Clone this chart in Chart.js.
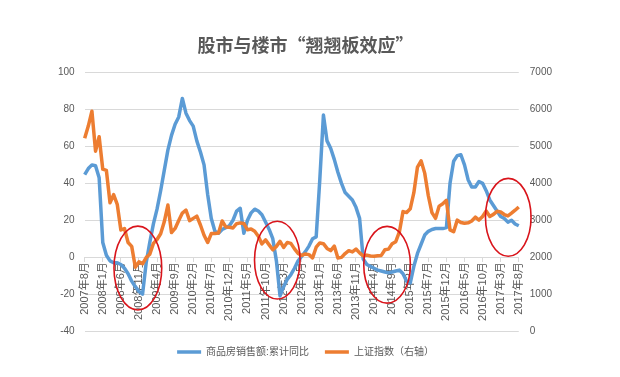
<!DOCTYPE html>
<html>
<head>
<meta charset="utf-8">
<script src="https://cdn.jsdelivr.net/npm/chart.js@4/dist/chart.umd.min.js"></script>
<style>
  html, body { margin:0; padding:0; background:#fff; }
  #wrap { width:620px; height:377px; }
</style>
</head>
<body>
<div id="wrap"><canvas id="seesawChart" width="620" height="377"></canvas></div>
<script>
/* ── Categories: one per month, 2007年8月 … 2017年8月 ── */
const MONTHS = [];
for (let y = 2007; y <= 2017; y++) {
  for (let m = 1; m <= 12; m++) {
    if ((y === 2007 && m < 8) || (y === 2017 && m > 8)) continue;
    MONTHS.push(y + '年' + m + '月');
  }
}

/* ── Axis labels actually shown on the picture ── */
const TICK_LABELS = [
  '2007年8月','2008年1月','2008年6月','2008年11月','2009年4月','2009年9月','2010年2月',
  '2010年7月','2010年12月','2011年5月','2011年10月','2012年3月','2012年8月','2013年1月',
  '2013年6月','2013年11月','2014年4月','2014年9月','2015年2月','2015年7月','2015年12月',
  '2016年5月','2016年10月','2017年3月','2017年8月'
];

/* ── 商品房销售额:累计同比 (%) — left axis ── */
const SALES_YOY = [
  44.7, 48, 50, 49.5, 43,
  8, 1, -2, -3, -3, -4, -6, -9, -13, -16, -18.5, -20,
  -3, 8, 18, 26, 36, 47, 58, 66, 72, 76, 86, 78,
  74, 71, 63, 57, 50, 34, 21, 14, 13, 15, 16, 17,
  20, 25, 26.5, 13, 20, 24, 26, 25, 23, 19, 15, 10,
  -2, -21, -16, -12, -9.5, -6, -2, 0.5, 3, 6, 10, 11,
  42, 77, 63, 59, 53, 46, 40, 35, 33, 31, 27, 21,
  -1, -4, -5, -6, -7, -7.5, -8, -8.5, -8, -7.5, -7, -9,
  -13, -14, -5, 2, 7, 12, 14, 15, 15.5, 15.5, 15.5, 16,
  40, 52, 55, 55.5, 50, 42, 38, 38, 41, 40, 36, 31,
  28, 25, 22, 21, 19, 20, 18, 17
];

/* ── 上证指数 (month end) — right axis ── */
const SSE_INDEX = [
  5219, 5552, 5955, 4872, 5262,
  4383, 4349, 3473, 3693, 3433, 2736, 2776, 2397, 2293, 1729, 1872, 1821,
  1991, 2082, 2374, 2478, 2633, 2959, 3412, 2667, 2779, 2996, 3195, 3277,
  2989, 3051, 3110, 2871, 2593, 2398, 2638, 2639, 2656, 2979, 2820, 2808,
  2791, 2906, 2928, 2911, 2744, 2762, 2701, 2568, 2359, 2469, 2333, 2199,
  2292, 2428, 2263, 2397, 2373, 2225, 2103, 2047, 2086, 2069, 1980, 2269,
  2385, 2366, 2237, 2178, 2301, 1979, 1994, 2098, 2175, 2141, 2220, 2116,
  2033, 2056, 2033, 2026, 2039, 2048, 2202, 2218, 2364, 2420, 2683, 3235,
  3210, 3310, 3748, 4442, 4612, 4277, 3664, 3206, 3053, 3383, 3445, 3539,
  2738, 2688, 3004, 2938, 2917, 2930, 2979, 3085, 3005, 3100, 3250, 3104,
  3159, 3242, 3223, 3155, 3117, 3192, 3273, 3361
];

const FONT = '"Liberation Sans", "Noto Sans CJK SC", sans-serif';
const TEXT = '#595959';
const GRID = '#d9d9d9';

/* ── hand-drawn red rings, placed in data units (month index / left-axis value) ── */
const RINGS = [
  { at:14.7,  val:-5.9, spanM:6.6,  spanV:22.7 },
  { at:53.25, val:-1.6, spanM:6.3,  spanV:21.1 },
  { at:83.6,  val:-4.1, spanM:6.45, spanV:20.8 },
  { at:117.1, val:21.6, spanM:6.3,  spanV:21.1 },
];

const ringPlugin = {
  id:'rings',
  afterDatasetsDraw(chart) {
    const xs = chart.scales.x, ys = chart.scales.y, ctx = chart.ctx;
    ctx.save();
    ctx.strokeStyle = '#d9141b';
    ctx.lineWidth = 1.6;
    RINGS.forEach(r => {
      const cx = xs.getPixelForValue(r.at);
      const cy = ys.getPixelForValue(r.val);
      const rx = Math.abs(xs.getPixelForValue(r.at + r.spanM) - cx);
      const ry = Math.abs(ys.getPixelForValue(r.val + r.spanV) - cy);
      ctx.beginPath();
      ctx.ellipse(cx, cy, rx, ry, 0, 0, Math.PI * 2);
      ctx.stroke();
    });
    ctx.restore();
  }
};

const chart = new Chart(document.getElementById('seesawChart'), {
  type:'line',
  data:{
    labels:MONTHS,
    datasets:[
      { label:'商品房销售额:累计同比', data:SALES_YOY, yAxisID:'y', borderColor:'#5b9bd5', backgroundColor:'#5b9bd5',
        borderWidth:3.5, pointRadius:0, tension:0, order:2, borderJoinStyle:'round' },
      { label:'上证指数（右轴）', data:SSE_INDEX, yAxisID:'y1', borderColor:'#ed7d31', backgroundColor:'#ed7d31',
        borderWidth:3.5, pointRadius:0, tension:0, order:1, borderJoinStyle:'round' },
    ]
  },
  options:{
    responsive:false, animation:false, devicePixelRatio:1,
    layout:{ padding:{ left:48, right:57, top:0, bottom:10 } },
    plugins:{
      title:{ display:true, text:'股市与楼市“翘翘板效应”', color:TEXT,
              font:{ family:'"Noto Sans CJK SC", sans-serif', size:18, weight:'bold' },
              padding:{ top:34, bottom:17 } },
      legend:{ position:'bottom',
               labels:{ usePointStyle:true, pointStyle:'line', pointStyleWidth:24, color:TEXT, padding:16,
                        font:{ family:FONT, size:10 }, sort:(a,b) => a.datasetIndex - b.datasetIndex } },
      tooltip:{ enabled:false }
    },
    scales:{
      x:{ type:'category', position:{ y:0 }, offset:false,
          grid:{ drawOnChartArea:false, drawTicks:true, tickLength:4,
                 color:c => (c.index % 5 === 0 ? GRID : 'rgba(0,0,0,0)') },
          border:{ display:true, color:GRID },
          ticks:{ autoSkip:false, minRotation:90, maxRotation:90, padding:1, color:TEXT,
                  font:{ family:FONT, size:11 },
                  callback(v) { const l = this.getLabelForValue(v); return TICK_LABELS.includes(l) ? l : ''; } } },
      y:{ position:'left', min:-40, max:100,
          grid:{ color:GRID, drawTicks:false }, border:{ display:false },
          ticks:{ stepSize:20, padding:10, color:TEXT, font:{ family:FONT, size:10 } } },
      y1:{ position:'right', min:0, max:7000,
           grid:{ drawOnChartArea:false, drawTicks:false }, border:{ display:false },
           ticks:{ stepSize:1000, padding:11, color:TEXT, font:{ family:FONT, size:10 },
                   callback:v => String(v) } }
    }
  },
  plugins:[ringPlugin]
});
</script>
</body>
</html>
